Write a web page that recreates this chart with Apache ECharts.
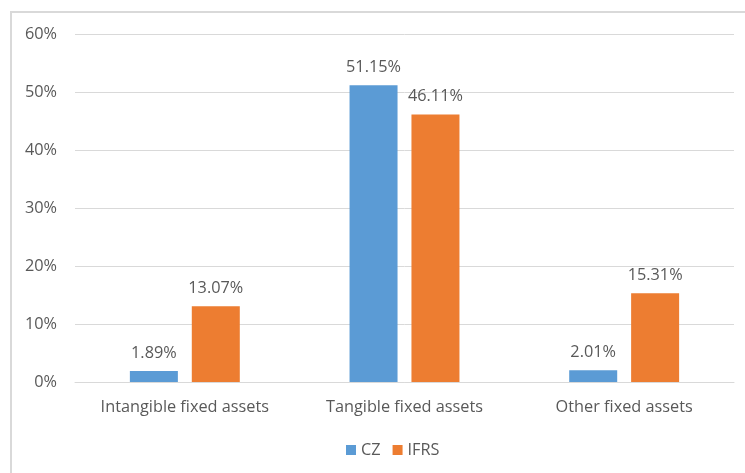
<!DOCTYPE html>
<html><head><meta charset="utf-8">
<script src="https://cdn.jsdelivr.net/npm/echarts@6/dist/echarts.min.js"></script>
<style>html,body{margin:0;padding:0;background:#fff}#c{width:745px;height:473px}
#frame{position:absolute;left:10px;top:11px;width:760px;height:480px;border:2px solid #d9d9d9;box-sizing:border-box;pointer-events:none}</style>
</head><body><div id="c"></div><div id="frame"></div>
<script>
const categories = ['Intangible fixed assets', 'Tangible fixed assets', 'Other fixed assets'];
const czValues = [1.89, 51.15, 2.01];
const ifrsValues = [13.07, 46.11, 15.31];
const seriesNames = ['CZ', 'IFRS'];

const font = '"Open Sans", Lato, sans-serif';
const fs = 16.3;
const chart = echarts.init(document.getElementById('c'), null, {renderer: 'canvas'});
const lbl = {show: true, position: 'top', distance: 10, color: '#595959', fontSize: fs, fontFamily: font,
  formatter: p => p.value.toFixed(2) + '%'};
chart.setOption({
  animation: false,
  grid: {left: 75, right: 11, top: 34, bottom: 91, containLabel: false},
  legend: {bottom: 10, left: 341, itemWidth: 10, itemHeight: 10, itemGap: 12, icon: 'rect',
    textStyle: {color: '#595959', fontSize: fs, fontFamily: font}, data: seriesNames},
  xAxis: {type: 'category', data: categories,
    axisLine: {lineStyle: {color: '#d9d9d9', width: 1}}, axisTick: {show: false},
    axisLabel: {color: '#595959', fontSize: fs, fontFamily: font, margin: 17}},
  yAxis: {type: 'value', min: 0, max: 60, interval: 10,
    axisLabel: {color: '#595959', fontSize: fs, fontFamily: font, formatter: '{value}%', margin: 18},
    splitLine: {lineStyle: {color: '#d9d9d9', width: 1}}, axisLine: {show: false}, axisTick: {show: false}},
  series: [
    {name: seriesNames[0], type: 'bar', data: czValues, barWidth: 48, barGap: '29%', itemStyle: {color: '#5B9BD5'}, label: lbl},
    {name: seriesNames[1], type: 'bar', data: ifrsValues, barWidth: 48, itemStyle: {color: '#ED7D31'}, label: lbl}
  ]
});
</script></body></html>
